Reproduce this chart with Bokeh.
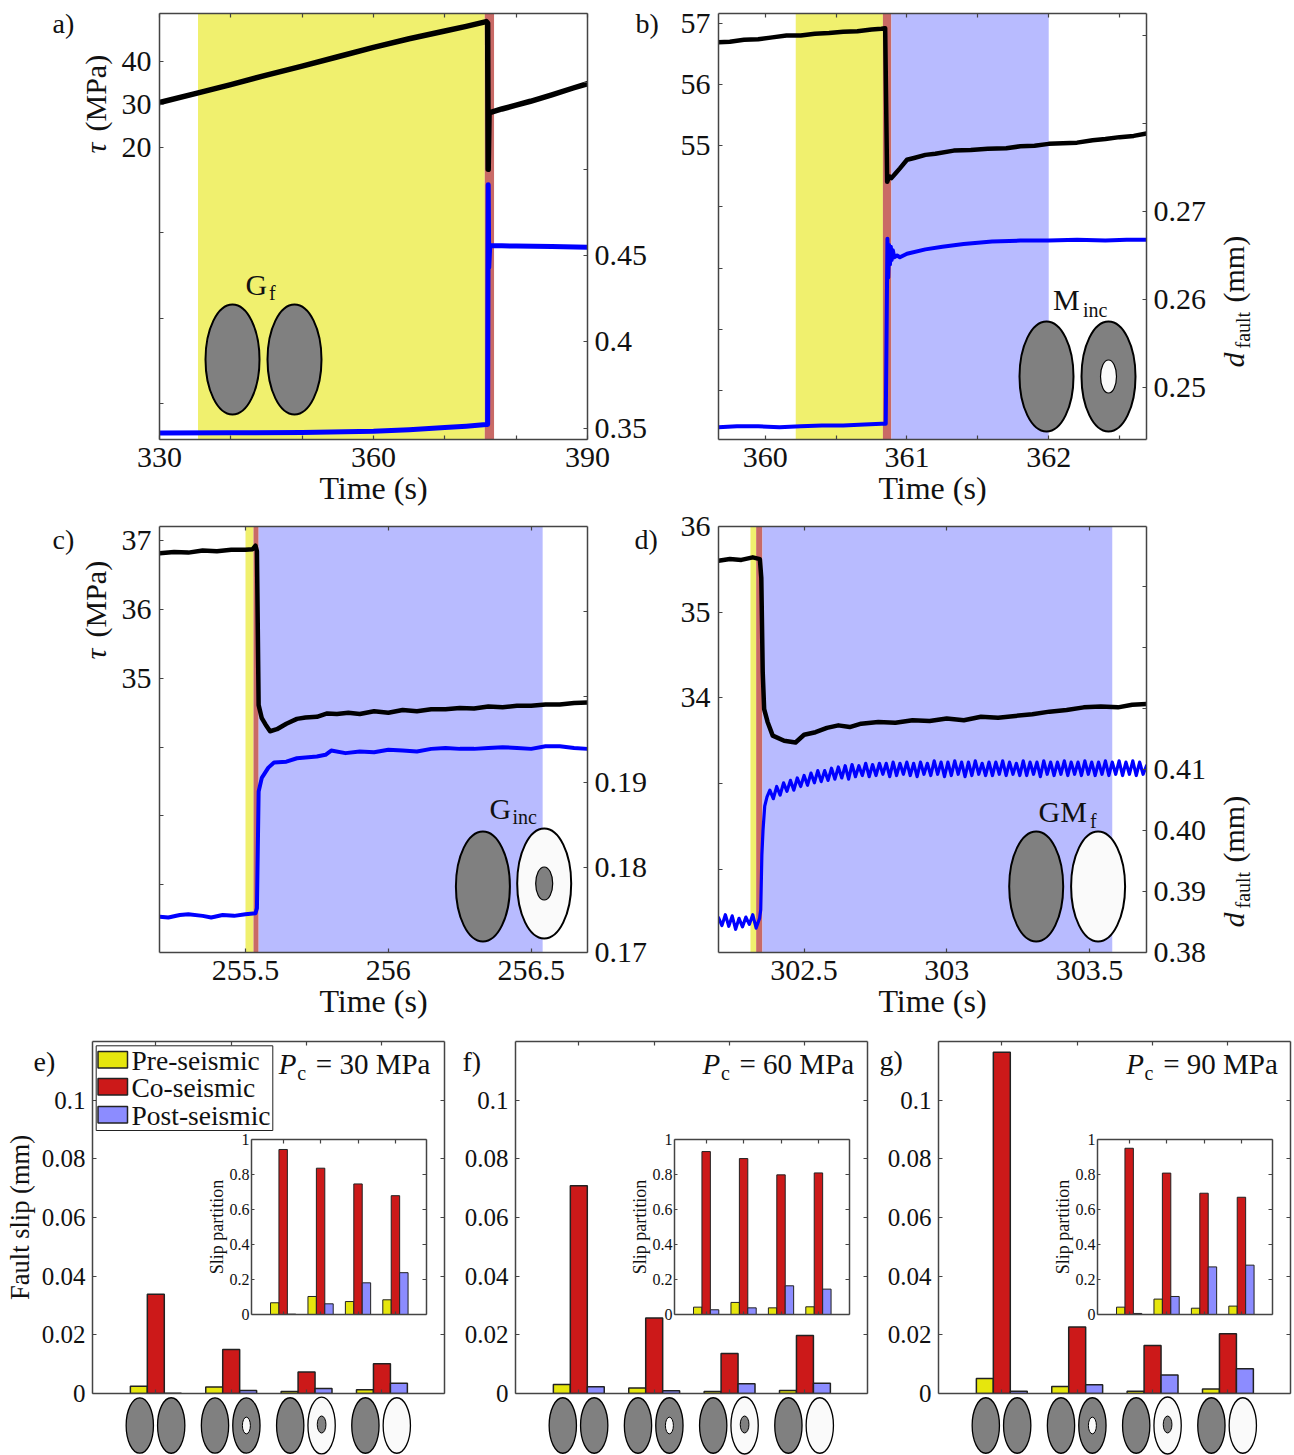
from math import pi
import numpy as np
from bokeh.embed import file_html
from bokeh.resources import INLINE
from bokeh.core.properties import value
from bokeh.layouts import column
from bokeh.models import (BoxAnnotation, FixedTicker, LinearAxis, Range1d)
from bokeh.plotting import figure

# ---------- panel a ----------
a_t_tau = [330, 335, 340, 345, 350, 355, 360, 365, 370, 373, 375.8, 376.0, 376.08, 376.2, 378, 380, 382, 385, 388, 390]
a_tau = [30.4, 32.5, 34.6, 36.8, 38.9, 41.1, 43.3, 45.3, 47.1, 48.2, 49.3, 49.0, 14.8, 28.0, 28.9, 29.8, 30.7, 32.2, 33.8, 34.8]
a_t_d = [330, 340, 350, 360, 365, 370, 373, 375.8, 376.0, 376.08, 376.15, 376.3, 378, 380, 385, 390]
a_d = [.3473, .3475, .3477, .3484, .3493, .3505, .3513, .3523, .3523, .491, .443, .4558, .4556, .4555, .4552, .4548]
# ---------- panel b ----------
b_t_tau = [359.67, 359.75, 359.85, 359.95, 360.05, 360.15, 360.25, 360.35, 360.45, 360.55, 360.65, 360.75, 360.82, 360.846, 360.86,
           360.875, 360.89, 360.92, 360.95, 361.0, 361.05, 361.13, 361.2, 361.33, 361.45, 361.57, 361.7, 361.8, 361.9, 362.0, 362.1, 362.2, 362.31, 362.4, 362.5, 362.6, 362.69]
b_tau = [56.69, 56.70, 56.73, 56.74, 56.77, 56.80, 56.80, 56.83, 56.84, 56.86, 56.87, 56.90, 56.91, 56.92, 54.41,
         54.50, 54.47, 54.55, 54.63, 54.77, 54.80, 54.85, 54.87, 54.92, 54.93, 54.95, 54.96, 54.99, 55.00, 55.03, 55.04, 55.05, 55.09, 55.11, 55.14, 55.16, 55.20]
b_t_d = [359.67, 359.8, 359.95, 360.1, 360.25, 360.4, 360.55, 360.7, 360.82, 360.85, 360.862, 360.868, 360.874, 360.88, 360.886, 360.892, 360.9,
         360.91, 360.93, 360.95, 361.0, 361.13, 361.25, 361.4, 361.6, 361.8, 362.0, 362.2, 362.4, 362.55, 362.69]
b_d = [.2455, .2456, .2456, .2455, .2456, .2457, .2457, .2458, .2459, .2459, .2669, .2625, .2662, .2640, .2660, .2645, .2656,
       .2648, .2650, .2648, .2652, .2657, .2660, .2663, .2666, .2667, .2667, .2668, .2667, .2668, .2668]
# ---------- panel c ----------
c_t_tau = [255.2, 255.25, 255.3, 255.35, 255.4, 255.45, 255.5, 255.525, 255.535, 255.54, 255.546, 255.557, 255.57, 255.586, 255.61, 255.643, 255.68, 255.71, 255.75, 255.786,
           255.82, 255.86, 255.9, 255.95, 256.0, 256.05, 256.1, 256.15, 256.2, 256.25, 256.3, 256.35, 256.4, 256.45, 256.5, 256.55, 256.6, 256.65, 256.697]
c_tau = [36.82, 36.84, 36.83, 36.86, 36.85, 36.87, 36.87, 36.88, 36.93, 36.85, 34.61, 34.42, 34.33, 34.23, 34.26, 34.34, 34.41, 34.43, 34.44, 34.49,
         34.48, 34.50, 34.48, 34.52, 34.50, 34.54, 34.52, 34.55, 34.55, 34.57, 34.56, 34.59, 34.58, 34.60, 34.60, 34.62, 34.62, 34.64, 34.65]
c_t_d = [255.2, 255.23, 255.27, 255.3, 255.35, 255.38, 255.42, 255.46, 255.5, 255.535, 255.54, 255.546, 255.557, 255.58, 255.6, 255.643, 255.68, 255.71, 255.75, 255.78,
         255.8, 255.85, 255.9, 255.95, 256.0, 256.05, 256.1, 256.15, 256.2, 256.25, 256.3, 256.35, 256.4, 256.45, 256.5, 256.55, 256.6, 256.65, 256.697]
c_d = [.1742, .1741, .1744, .1745, .1743, .1741, .1744, .1743, .1745, .1746, .1752, .1889, .1905, .1917, .1923, .1924, .1928, .1929, .1930, .1932,
       .1937, .1934, .1936, .1935, .1938, .1937, .1936, .1939, .1940, .1939, .1939, .1940, .1941, .1940, .1939, .1942, .1942, .1940, .1939]
# ---------- panel d ----------
d_t_tau = [302.2, 302.24, 302.28, 302.32, 302.345, 302.35, 302.355, 302.36, 302.372, 302.39, 302.43, 302.47, 302.5, 302.54, 302.58, 302.62, 302.66, 302.7, 302.76, 302.82, 302.88,
           302.94, 303.0, 303.06, 303.12, 303.18, 303.24, 303.3, 303.36, 303.42, 303.48, 303.54, 303.6, 303.65, 303.7]
d_tau = [35.60, 35.62, 35.61, 35.64, 35.62, 35.4, 34.3, 33.87, 33.72, 33.56, 33.50, 33.48, 33.57, 33.60, 33.65, 33.68, 33.66, 33.70, 33.72, 33.71, 33.74,
         33.73, 33.76, 33.74, 33.78, 33.77, 33.79, 33.81, 33.84, 33.86, 33.89, 33.90, 33.89, 33.92, 33.93]
d_d_pre = [.3857, .3844, .3862, .3843, .3860, .3838, .3856, .3842, .3858, .3846, .3862, .3840, .3856]
d_t_jump = [302.348, 302.352, 302.356, 302.362, 302.37]
d_d_jump = [.3870, .3960, .4000, .4040, .4055]
d_d_post = [.4066, .4052, .4072, .4058, .4078, .4064, .4082, .4066, .4086, .4072,
            .4090, .4074, .4094, .4078, .4098, .4080, .4098, .4082, .4102, .4084,
            .4104, .4086, .4106, .4084, .4108, .4088, .4106, .4090, .4110, .4088,
            .4108, .4090, .4110, .4092, .4110, .4088, .4112, .4090, .4110, .4092,
            .4112, .4090, .4110, .4088, .4112, .4092, .4110, .4090, .4114, .4092,
            .4112, .4088, .4112, .4090, .4114, .4092, .4112, .4088, .4112, .4090,
            .4114, .4092, .4110, .4090, .4112, .4090, .4112, .4092, .4114, .4090,
            .4112, .4092, .4110, .4090, .4114, .4090, .4112, .4092, .4112, .4088,
            .4114, .4092, .4112, .4090, .4112, .4092, .4114, .4090, .4112, .4092,
            .4112, .4090, .4114, .4092, .4112, .4090, .4112, .4092, .4114, .4090,
            .4112, .4092, .4114, .4090, .4112, .4092, .4114, .4090, .4112, .4092, .4106]
# ---------- seismic phase boundaries (s): pre start, co start, co end, post end ----------
a_phases = [335.4, 375.6, 376.9, None]
b_phases = [360.215, 360.83, 360.89, 362.0]
c_phases = [255.5, 255.528, 255.546, 256.54]
d_phases = [302.312, 302.332, 302.354, 303.58]
# ---------- bars ----------
groups = [1, 2, 3, 4]
e_pre = [.0025, .0022, .0007, .0013]
e_co = [.0338, .0150, .0073, .0101]
e_post = [.0001, .0010, .0017, .0035]
f_pre = [.0031, .0019, .0007, .0010]
f_co = [.0708, .0257, .0136, .0198]
f_post = [.0023, .0009, .0033, .0035]
g_pre = [.0051, .0024, .0008, .0015]
g_co = [.1163, .0227, .0164, .0204]
g_post = [.0008, .0030, .0063, .0084]
e_pre_i = [.067, .103, .074, .084]
e_co_i = [.943, .836, .746, .679]
e_post_i = [.002, .061, .181, .239]
f_pre_i = [.042, .069, .038, .044]
f_co_i = [.931, .891, .798, .809]
f_post_i = [.027, .038, .164, .145]
g_pre_i = [.042, .088, .036, .048]
g_co_i = [.950, .808, .693, .670]
g_post_i = [.006, .103, .272, .282]
series_names = ["Pre-seismic", "Co-seismic", "Post-seismic"]

SERIF = "Liberation Serif"
FRAME = "#444444"
YEL, RED_B, BLU = "#F0F06E", "#C96A66", "#B8BBFF"
BAR_COL = ["#E6E60D", "#CC1919", "#8C8CFF"]
MBL = 92  # a column aligns its children's frames, so every figure gets the same left margin
MBR = 70  # ... and the same right margin


def place(p, left, top, mbt, extra=""):
    """Put a figure so that its frame's top-left corner lands at page px (left, top)."""
    x = left - MBL
    y = top - mbt
    p.stylesheets = [f":host {{ position: absolute !important; left: {x}px !important; top: {y}px !important; {extra} }}"]


def style_axis(ax, size, labels=None, tick_in=4, standoff=5):
    ax.major_tick_in = tick_in
    ax.major_tick_out = 0
    ax.minor_tick_line_color = None
    ax.axis_line_color = FRAME
    ax.axis_line_width = 1.5
    ax.major_tick_line_color = FRAME
    ax.major_tick_line_width = 1.2
    ax.major_label_text_font = SERIF
    ax.major_label_text_color = "#111111"
    ax.major_label_text_font_size = f"{size}px"
    ax.major_label_standoff = standoff
    if labels is not None:
        ax.major_label_overrides = labels


def blank_axis(ticks):
    ax = LinearAxis(ticker=FixedTicker(ticks=ticks))
    style_axis(ax, 0, None, standoff=0)
    ax.major_label_text_color = None
    return ax


def ts_panel(left, top, xr, yl, yr, xticks, xlabels, lticks, llabels, rticks, rlabels, phases,
             tau, slip, lw, lwb=None):
    mbt = min(top - 1, 20)
    p = figure(frame_width=428, frame_height=426, x_range=xr, y_range=yl, output_backend="svg",
               toolbar_location=None, min_border_left=MBL, min_border_top=mbt, min_border_right=MBR,
               min_border_bottom=90, background_fill_color=None, border_fill_color=None,
               outline_line_color=None)
    p.grid.visible = False
    p.extra_y_ranges = {"r": Range1d(*yr)}
    bands = []
    if phases[0] is not None:
        bands.append((phases[0], phases[1], YEL))
    bands.append((phases[1], phases[2], RED_B))
    if phases[3] is not None:
        bands.append((phases[2], phases[3], BLU))
    for l, r, c in bands:
        p.add_layout(BoxAnnotation(left=l, right=r, fill_color=c, fill_alpha=1, line_color=None, level="underlay"))
    p.line(tau[0], tau[1], line_color="black", line_width=lw, line_cap="round", line_join="round")
    p.line(slip[0], slip[1], line_color="#0000FF", line_width=lwb or lw, line_cap="round", line_join="round", y_range_name="r")

    xax = p.xaxis[0]
    xax.ticker = FixedTicker(ticks=xticks)
    style_axis(xax, 30, xlabels, standoff=8)
    xax.axis_label = "Time (s)"
    xax.axis_label_text_font = SERIF
    xax.axis_label_text_font_style = "normal"
    xax.axis_label_text_font_size = "32px"
    xax.axis_label_text_color = "#111111"
    xax.axis_label_standoff = 0
    yax = p.yaxis[0]
    yax.ticker = FixedTicker(ticks=lticks)
    style_axis(yax, 30, llabels, standoff=8)
    rax = LinearAxis(y_range_name="r", ticker=FixedTicker(ticks=rticks))
    style_axis(rax, 30, rlabels, standoff=7)
    p.add_layout(rax, "right")
    p.add_layout(blank_axis(xticks), "above")
    place(p, left, top, mbt)
    return p


def bar_panel(left, vals, ylabel=None):
    mbt = 20
    top = 1041
    p = figure(frame_width=352, frame_height=352, x_range=(0.16, 4.83), y_range=(0, 0.12), output_backend="svg",
               toolbar_location=None, min_border_left=MBL, min_border_top=mbt, min_border_right=MBR,
               min_border_bottom=20, background_fill_color=None, border_fill_color=None,
               outline_line_color=None)
    p.grid.visible = False
    add_bars(p, vals, 1.5)
    p.xaxis[0].ticker = FixedTicker(ticks=groups)
    style_axis(p.xaxis[0], 0, standoff=0)
    p.xaxis[0].major_label_text_color = None
    yax = p.yaxis[0]
    yax.ticker = FixedTicker(ticks=[0, .02, .04, .06, .08, .1])
    style_axis(yax, 25, {0: "0", .02: "0.02", .04: "0.04", .06: "0.06", .08: "0.08", .1: "0.1"}, standoff=7)
    if ylabel:
        yax.axis_label = ylabel
        yax.axis_label_text_font = SERIF
        yax.axis_label_text_font_style = "normal"
        yax.axis_label_text_font_size = "26.5px"
        yax.axis_label_text_color = "#111111"
        yax.axis_label_standoff = 4
    p.add_layout(blank_axis(groups), "above")
    p.add_layout(blank_axis([0, .02, .04, .06, .08, .1]), "right")
    place(p, left, top, mbt)
    return p


def add_bars(p, vals, lw):
    for i, (ys, c) in enumerate(zip(vals, BAR_COL)):
        xs = [g + (i - 1) * 0.225 for g in groups]
        p.vbar(x=xs, top=ys, bottom=0, width=0.225, fill_color=c, line_color="#222222", line_width=lw)


def inset_panel(left, vals):
    mbt = 12
    top = 1139
    p = figure(frame_width=175, frame_height=175, x_range=(0.154, 4.83), y_range=(0, 1), output_backend="svg",
               toolbar_location=None, min_border_left=MBL, min_border_top=mbt, min_border_right=MBR,
               min_border_bottom=12, background_fill_color=None, border_fill_color=None,
               outline_line_color=None)
    p.grid.visible = False
    add_bars(p, vals, 1)
    p.xaxis[0].ticker = FixedTicker(ticks=groups)
    style_axis(p.xaxis[0], 0, tick_in=3, standoff=0)
    p.xaxis[0].major_label_text_color = None
    yax = p.yaxis[0]
    yax.ticker = FixedTicker(ticks=[0, .2, .4, .6, .8, 1])
    style_axis(yax, 16, {0: "0", .2: "0.2", .4: "0.4", .6: "0.6", .8: "0.8", 1: "1"}, tick_in=3, standoff=2)
    yax.axis_label = "Slip partition"
    yax.axis_label_text_font = SERIF
    yax.axis_label_text_font_style = "normal"
    yax.axis_label_text_font_size = "18px"
    yax.axis_label_text_color = "#111111"
    yax.axis_label_standoff = 0
    p.add_layout(blank_axis(groups), "above")
    p.add_layout(blank_axis([0, .2, .4, .6, .8, 1]), "right")
    place(p, left, top, mbt)
    return p


pa = ts_panel(159, 13, (330, 390), (-48.3, 51.2), (.3436, .59), [330, 340, 350, 360, 370, 380, 390],
              {330: "330", 340: "", 350: "", 360: "360", 370: "", 380: "", 390: "390"},
              [40, 30, 20, 0, -20, -40], {40: "40", 30: "30", 20: "20", 0: "", -20: "", -40: ""},
              [.35, .4, .45, .5, .55], {.35: "0.35", .4: "0.4", .45: "0.45", .5: "", .55: ""},
              a_phases, (a_t_tau, a_tau), (a_t_d, a_d), 5.5, 5)
pb = ts_panel(718, 13, (359.67, 362.69), (50.2, 57.16), (.2441, .2925), [360, 360.5, 361, 361.5, 362, 362.5],
              {360: "360", 360.5: "", 361: "361", 361.5: "", 362: "362", 362.5: ""},
              [57, 56, 55, 54, 53, 52, 51], {57: "57", 56: "56", 55: "55", 54: "", 53: "", 52: "", 51: ""},
              [.25, .26, .27, .28, .29], {.25: "0.25", .26: "0.26", .27: "0.27", .28: "", .29: ""},
              b_phases, (b_t_tau, b_tau), (b_t_d, b_d), 4.5, 4)
pc = ts_panel(159, 526, (255.199, 256.697), (31.01, 37.21), (.17, .22), [255.5, 256, 256.5],
              {255.5: "255.5", 256: "256", 256.5: "256.5"},
              [37, 36, 35, 34, 33, 32], {37: "37", 36: "36", 35: "35", 34: "", 33: "", 32: ""},
              [.17, .18, .19, .2, .21], {.17: "0.17", .18: "0.18", .19: "0.19", .2: "", .21: ""},
              c_phases, (c_t_tau, c_tau), (c_t_d, c_d), 4.5, 4)
d_t_pre = 302.2 + 0.012 * np.arange(len(d_d_pre))
d_t_post = 302.38 + 0.012 * np.arange(len(d_d_post))
d_t_all = list(d_t_pre) + d_t_jump + list(d_t_post)
d_d_all = d_d_pre + d_d_jump + d_d_post
pd_ = ts_panel(718, 526, (302.2, 303.7), (31.03, 36), (.38, .4498), [302.5, 303, 303.5],
               {302.5: "302.5", 303: "303", 303.5: "303.5"},
               [36, 35, 34, 33, 32], {36: "36", 35: "35", 34: "34", 33: "", 32: ""},
               [.38, .39, .40, .41, .42, .43, .44], {.38: "0.38", .39: "0.39", .40: "0.40", .41: "0.41", .42: "", .43: "", .44: ""},
               d_phases, (d_t_tau, d_tau), (d_t_all, d_d_all), 4.5, 3.2)

pe = bar_panel(92, [e_pre, e_co, e_post], ylabel="Fault slip (mm)")
pf = bar_panel(515, [f_pre, f_co, f_post])
pg = bar_panel(938, [g_pre, g_co, g_post])
ie = inset_panel(251, [e_pre_i, e_co_i, e_post_i])
if_ = inset_panel(674, [f_pre_i, f_co_i, f_post_i])
ig = inset_panel(1097, [g_pre_i, g_co_i, g_post_i])

# ---------- overlay in page pixels: panel letters, mixed-style labels, legend, specimen icons ----------
OV_W = 1290 + MBL + MBR
OV_TOP = 8
ov = figure(title=None, frame_width=1290, frame_height=1447, width=OV_W, height=1447, x_range=(0, 1290),
            y_range=(1455, OV_TOP), output_backend="svg",
            toolbar_location=None, x_axis_type=None, y_axis_type=None, min_border_left=MBL, min_border_top=0,
            min_border_right=MBR, min_border_bottom=0, background_fill_color=None, border_fill_color=None,
            outline_line_color=None)
ov.grid.visible = False
place(ov, 0, OV_TOP, 0, f"width: {OV_W}px !important; height: 1447px !important; max-width: none !important;")

BASELINE_SHIFT = 0.3  # the svg text sits this fraction of its size past the requested baseline


def T(x, y, s, size=29, style="normal", angle=0):
    d = BASELINE_SHIFT * size
    if angle:
        x = x - d
    else:
        y = y - d
    ov.text([x], [y], text=[s], text_font=value(SERIF), text_font_size=value(f"{size}px"),
            text_font_style=style, text_color="#111111", text_align="left", text_baseline="alphabetic", angle=angle)


GRAY, WHITE = "#808080", "#FAFAFA"


def E(x, y, w, h, c, lw=2.0):
    ov.ellipse([x], [y], width=w, height=h, fill_color=c, line_color="black", line_width=lw)


for x, y, s in [(52, 31, "a)"), (635, 31, "b)"), (52, 547, "c)"), (634, 547, "d)"),
                (33, 1069, "e)"), (462, 1069, "f)"), (879, 1068, "g)")]:
    T(x, y, s, 28)

for y0 in (153, 659):
    T(104, y0, "τ", 30, "italic", pi / 2)
    T(104, y0 - 22, "(MPa)", 30, "normal", pi / 2)
for y0 in (367, 927):
    T(1242, y0, "d", 30, "italic", pi / 2)
    T(1248, y0 - 19, "fault", 20, "normal", pi / 2)
    T(1242, y0 - 65, "(mm)", 30, "normal", pi / 2)

for x, y, s, xs, ys, sub in [(245, 293, "G", 268.6, 298, "f"), (1052.6, 308, "M", 1082.4, 315, "inc"),
                             (489, 817, "G", 512, 822, "inc"), (1038, 820, "GM", 1089.6, 826, "f")]:
    T(x, y, s, 30)
    T(xs, ys, sub, 20)

E(232, 359, 54, 110, GRAY)
E(294, 359, 54, 110, GRAY)
E(1046, 376, 54, 110, GRAY)
E(1108, 376, 54, 110, GRAY)
E(1108, 376, 16, 33, WHITE, 1.2)
E(482.4, 886, 54, 110, GRAY)
E(543.7, 883, 54, 110, WHITE)
E(543.7, 883, 17, 33, GRAY, 1.2)
E(1035.7, 886, 54, 110, GRAY)
E(1097.6, 886, 54, 110, WHITE)

# legend of panel e
ov.quad(left=[95.7], right=[272.3], top=[1045.3], bottom=[1130], fill_color="white", line_color="#222222", line_width=1)
for name, col, top_y, base in zip(series_names, BAR_COL, (1051, 1078, 1106), (1068, 1095, 1123)):
    ov.quad(left=[97.5], right=[127], top=[top_y], bottom=[top_y + 16.5], fill_color=col, line_color="#222222", line_width=1.5)
    T(131, base, name, 27.5)

for x0, pc_txt in [(278.3, "= 30 MPa"), (702, "= 60 MPa"), (1125.7, "= 90 MPa")]:
    T(x0, 1072, "P", 29, "italic")
    T(x0 + 18.4, 1078, "c", 20)
    T(x0 + 37, 1072, pc_txt, 29)

for left in (92, 515, 938):
    for i in range(4):
        c = left + 63 + 75.2 * i
        E(c - 15.7, 1425, 27.3, 55.5, GRAY, 1.3)
        if i == 0:
            E(c + 15.7, 1425, 27.3, 55.5, GRAY, 1.3)
        elif i == 1:
            E(c + 15.7, 1425, 27.3, 55.5, GRAY, 1.3)
            E(c + 15.7, 1425, 8, 16.7, WHITE, 1)
        elif i == 2:
            E(c + 15.7, 1425, 27.3, 57, WHITE, 1.3)
            E(c + 15.7, 1424, 8.7, 17, GRAY, 1)
        else:
            E(c + 15.7, 1425, 27.3, 55.5, WHITE, 1.3)

root = column(pa, pb, pc, pd_, pe, pf, pg, ie, if_, ig, ov, width=1278, height=1447, sizing_mode="fixed")
open("out.html", "w").write(file_html(root, INLINE))
